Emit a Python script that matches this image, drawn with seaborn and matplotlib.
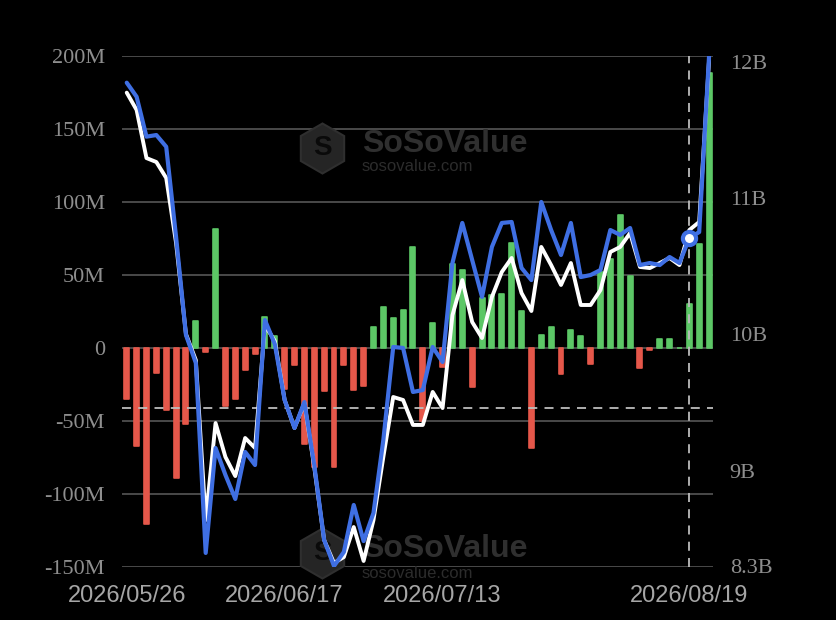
import numpy as np
import pandas as pd
import matplotlib
matplotlib.use("Agg")
import matplotlib.pyplot as plt
import seaborn as sns
from matplotlib.ticker import FixedLocator, FixedFormatter

# ---------------- data ----------------
dates = [
    "2026/05/26", "2026/05/27", "2026/05/28", "2026/05/29", "2026/06/01", "2026/06/02",
    "2026/06/03", "2026/06/04", "2026/06/05", "2026/06/08", "2026/06/09", "2026/06/10",
    "2026/06/11", "2026/06/12", "2026/06/15", "2026/06/16", "2026/06/17", "2026/06/18",
    "2026/06/22", "2026/06/23", "2026/06/24", "2026/06/25", "2026/06/26", "2026/06/29",
    "2026/06/30", "2026/07/01", "2026/07/02", "2026/07/06", "2026/07/07", "2026/07/08",
    "2026/07/09", "2026/07/10", "2026/07/13", "2026/07/14", "2026/07/15", "2026/07/16",
    "2026/07/17", "2026/07/20", "2026/07/21", "2026/07/22", "2026/07/23", "2026/07/24",
    "2026/07/27", "2026/07/28", "2026/07/29", "2026/07/30", "2026/08/03", "2026/08/04",
    "2026/08/05", "2026/08/06", "2026/08/10", "2026/08/11", "2026/08/12", "2026/08/13",
    "2026/08/14", "2026/08/17", "2026/08/18", "2026/08/19", "2026/08/20", "2026/08/21",
]

# daily net flow, millions USD
net_flow_m = [
    -35, -67, -121, -17, -43, -89, -52, 18.5, -3, 81,
    -40, -35, -15, -4, 21, 8, -28, -12, -66, -82,
    -30, -82, -12, -29, -26, 14, 28, 20, 26, 69,
    -50, 17, -13, 57, 53, -27, 34, 36, 37, 72,
    25, -69, 9, 14, -18, 12, 8, -11, 52, 61,
    91, 49, -14, -1.5, 6, 6, 0, 30, 71, 188,
]

# total net assets (billions USD) - blue line
total_assets_b = [
    11.846, 11.743, 11.450, 11.462, 11.376, 10.714, 9.995, 9.790, 8.396, 9.166,
    8.968, 8.792, 9.137, 9.041, 10.105, 9.929, 9.518, 9.313, 9.503, 9.041,
    8.491, 8.300, 8.403, 8.748, 8.483, 8.689, 9.225, 9.907, 9.900, 9.577,
    9.591, 9.907, 9.797, 10.523, 10.817, 10.545, 10.274, 10.641, 10.817, 10.824,
    10.487, 10.398, 10.971, 10.765, 10.582, 10.817, 10.420, 10.435, 10.472, 10.765,
    10.729, 10.780, 10.508, 10.523, 10.508, 10.567, 10.523, 10.706, 10.750, 12.040,
]

# second series (billions USD) - white line
value_b = [
    11.773, 11.646, 11.293, 11.264, 11.147, 10.670, 10.002, 9.811, 8.637, 9.349,
    9.100, 8.960, 9.239, 9.166, 10.068, 9.951, 9.518, 9.313, 9.496, 9.026,
    8.491, 8.322, 8.366, 8.586, 8.337, 8.637, 9.100, 9.540, 9.518, 9.335,
    9.335, 9.577, 9.459, 10.140, 10.398, 10.090, 9.973, 10.274, 10.457, 10.560,
    10.303, 10.171, 10.641, 10.508, 10.362, 10.523, 10.215, 10.215, 10.325, 10.604,
    10.641, 10.743, 10.494, 10.486, 10.523, 10.560, 10.508, 10.765, 10.824, 12.010,
]

tick_dates = ["2026/05/26", "2026/06/17", "2026/07/13", "2026/08/19"]
left_ticks_m = [-150, -100, -50, 0, 50, 100, 150, 200]
left_tick_labels = ["-150M", "-100M", "-50M", "0", "50M", "100M", "150M", "200M"]
right_ticks_b = [8.3, 9, 10, 11, 12]
right_tick_labels = ["8.3B", "9B", "10B", "11B", "12B"]
hover_date = "2026/08/19"
crosshair_m = -41

# ---------------- styling ----------------
BG = "#000000"
GREEN = "#5cc766"
RED = "#e5574a"
BLUE = "#3f6fe3"
WHITE = "#ffffff"
GRID = "#4a4a4a"
YLAB = "#8e8e8e"
XLAB = "#a6a6a6"
WM = "#2f2f2f"

sns.set_theme(style="dark")
plt.rcParams["font.family"] = ["DejaVu Sans"]

df = pd.DataFrame({
    "date": dates,
    "x": np.arange(len(dates)),
    "flow": np.array(net_flow_m, dtype=float) * 1e6,
    "assets": np.array(total_assets_b) * 1e9,
    "value": np.array(value_b) * 1e9,
})
df["sign"] = np.where(df["flow"] >= 0, "in", "out")

fig = plt.figure(figsize=(8.36, 6.20), dpi=100, facecolor=BG)
ax = fig.add_axes([121.5 / 836, 1 - 566.7 / 620, (713 - 121.5) / 836, (566.7 - 55.7) / 620])
ax.set_facecolor(BG)

sns.barplot(data=df, x="date", y="flow", hue="sign", order=dates,
            palette={"in": GREEN, "out": RED}, dodge=False, width=0.5,
            saturation=1, legend=False, ax=ax, zorder=2)
for p in ax.patches:
    p.set_edgecolor(p.get_facecolor())
    p.set_linewidth(1.2)
    p.set_joinstyle("round")

ax.set_ylim(-150e6, 200e6)
ax.set_xlim(-0.53, 59.4)
ax.yaxis.set_major_locator(FixedLocator([v * 1e6 for v in left_ticks_m]))
ax.yaxis.set_major_formatter(FixedFormatter(left_tick_labels))
ax.grid(axis="y", color=GRID, linewidth=1.4, zorder=0)
ax.grid(axis="x", visible=False)
ax.set_axisbelow(True)
tick_pos = [dates.index(d) for d in tick_dates]
ax.set_xticks(tick_pos)
ax.set_xticklabels(tick_dates)
ax.tick_params(axis="x", length=0, pad=13, labelsize=17, labelcolor=XLAB)
ax.tick_params(axis="y", length=0, pad=12, labelsize=16, labelcolor=YLAB)
for lab in ax.get_yticklabels():
    lab.set_fontfamily("Liberation Serif")
for lab in ax.get_xticklabels():
    lab.set_fontfamily("Liberation Sans")
ax.set_xlabel("")
ax.set_ylabel("")
for s in ax.spines.values():
    s.set_visible(False)

# crosshair
ax.axhline(crosshair_m * 1e6, color="#bdbdbd", linewidth=1.3, linestyle=(0, (5, 4)), zorder=3)
hx = dates.index(hover_date)
ax.axvline(hx, color="#bdbdbd", linewidth=1.3, linestyle=(0, (5, 4)), zorder=3)

# watermark (drawn in the bar axes, beneath the lines)
for (ty, sy) in [(1 - 144 / 620, 1 - 166 / 620), (1 - 549 / 620, 1 - 573 / 620)]:
    ax.plot([322 / 836], [ty - 0.006], marker="h", markersize=36, markerfacecolor="#252525",
            markeredgecolor=WM, markeredgewidth=1.5, transform=fig.transFigure,
            clip_on=False, zorder=1)
    ax.text(322 / 836, ty - 0.006, "S", color="#0a0a0a", fontsize=20, fontweight="bold",
            ha="center", va="center", transform=fig.transFigure, family="Liberation Sans",
            zorder=1)
    ax.text(362 / 836, ty, "SoSoValue", color=WM, fontsize=23, fontweight="bold",
            ha="left", va="center", transform=fig.transFigure, family="Liberation Sans",
            zorder=1)
    ax.text(362 / 836, sy, "sosovalue.com", color="#2c2c2c", fontsize=12,
            ha="left", va="center", transform=fig.transFigure, family="Liberation Sans",
            zorder=1)

# lines on right axis
ax2 = ax.twinx()
sns.lineplot(data=df, x="x", y="value", color=WHITE, linewidth=2.8, ax=ax2,
             solid_joinstyle="round", zorder=4)
sns.lineplot(data=df, x="x", y="assets", color=BLUE, linewidth=3.0, ax=ax2,
             solid_joinstyle="round", zorder=5)
ax2.plot([hx], [df.loc[hx, "assets"]], marker="o", markersize=9.5, markerfacecolor=WHITE,
         markeredgecolor=BLUE, markeredgewidth=3, zorder=6)
ax2.set_ylim(8.295e9, 12.044e9)
ax2.set_xlim(-0.53, 59.4)
ax2.yaxis.set_major_locator(FixedLocator([v * 1e9 for v in right_ticks_b]))
ax2.yaxis.set_major_formatter(FixedFormatter(right_tick_labels))
ax2.tick_params(axis="y", length=0, pad=12, labelsize=16, labelcolor=YLAB)
for lab in ax2.get_yticklabels():
    lab.set_fontfamily("Liberation Serif")
ax2.grid(False)
ax2.set_ylabel("")
ax2.set_xlabel("")
for s in ax2.spines.values():
    s.set_visible(False)

fig.savefig("out.png", dpi=100, facecolor=BG)
